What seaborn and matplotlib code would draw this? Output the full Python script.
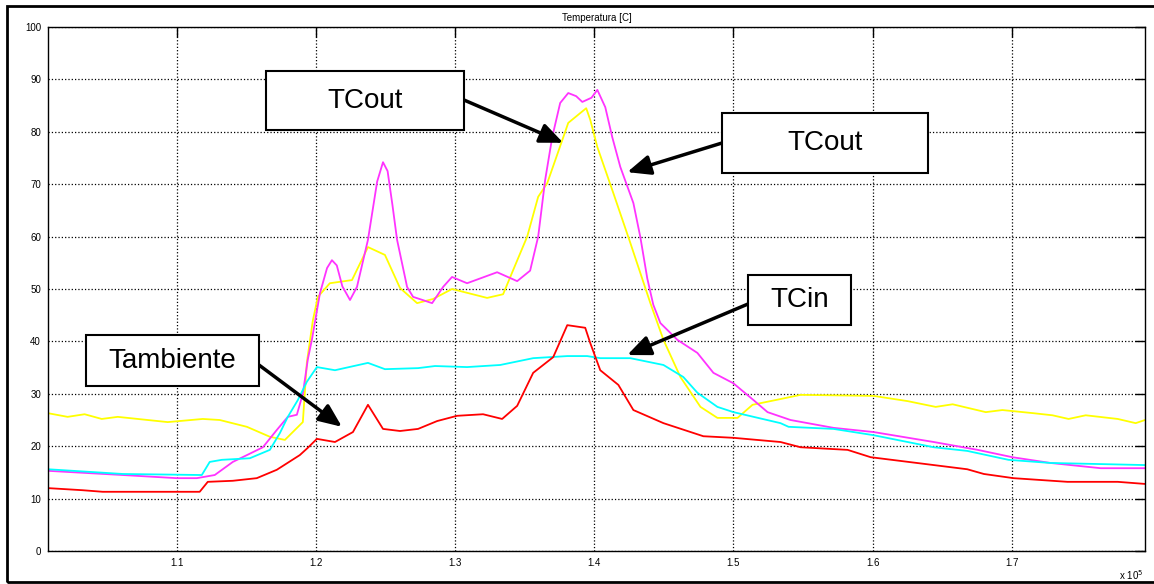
import numpy as np
import pandas as pd
import seaborn as sns
import matplotlib.pyplot as plt
from matplotlib.patches import Rectangle

# x values read in units of 1e5 (axis shows "x 10^5")
x_tcout1 = [1.0075, 1.0216, 1.0338, 1.0461, 1.0576, 1.0935, 1.1187, 1.1309, 1.1504, 1.1669,
            1.1777, 1.1906, 1.1935, 1.1978, 1.2014, 1.2100, 1.2259, 1.2374, 1.2496, 1.2604,
            1.2727, 1.2842, 1.2978, 1.3230, 1.3345, 1.3417, 1.3518, 1.3597, 1.3662, 1.3770,
            1.3813, 1.3942, 1.3971, 1.4022, 1.4137, 1.4259, 1.4403, 1.4497, 1.4619, 1.4763,
            1.4885, 1.5029, 1.5137, 1.5338, 1.5482, 1.6007, 1.6252, 1.6453, 1.6575, 1.6813,
            1.6932, 1.7155, 1.7292, 1.7408, 1.7531, 1.7761, 1.7890, 1.7957]
t_tcout1 = [26.3, 25.6, 26.1, 25.2, 25.6, 24.6, 25.2, 25.0, 23.7, 21.8,
            21.2, 24.6, 36.0, 44.0, 48.5, 51.1, 51.7, 58.0, 56.5, 50.2,
            47.3, 48.1, 50.0, 48.3, 49.0, 53.6, 60.0, 67.6, 70.2, 78.4,
            81.7, 84.5, 82.3, 77.1, 68.3, 58.8, 47.3, 40.3, 33.2, 27.5,
            25.4, 25.4, 27.9, 29.0, 29.8, 29.6, 28.6, 27.5, 28.0, 26.5,
            26.9, 26.3, 25.9, 25.2, 25.9, 25.2, 24.4, 25.0]

x_tcout2 = [1.0075, 1.0612, 1.1000, 1.1144, 1.1273, 1.1403, 1.1504, 1.1619, 1.1719, 1.1798,
            1.1863, 1.1906, 1.1942, 1.1971, 1.2029, 1.2080, 1.2115, 1.2150, 1.2190, 1.2245,
            1.2295, 1.2374, 1.2440, 1.2482, 1.2515, 1.2550, 1.2583, 1.2655, 1.2698, 1.2835,
            1.2914, 1.2978, 1.3086, 1.3302, 1.3446, 1.3539, 1.3597, 1.3647, 1.3698, 1.3755,
            1.3813, 1.3870, 1.3914, 1.3980, 1.4022, 1.4079, 1.4129, 1.4187, 1.4281, 1.4331,
            1.4381, 1.4424, 1.4475, 1.4597, 1.4741, 1.4856, 1.5000, 1.5144, 1.5245, 1.5410,
            1.5719, 1.6007, 1.6439, 1.6755, 1.7004, 1.7278, 1.7639, 1.7957]
t_tcout2 = [15.3, 14.5, 13.9, 13.9, 14.5, 17.0, 18.3, 19.8, 23.1, 25.6,
            26.0, 30.0, 36.6, 40.3, 49.2, 54.0, 55.5, 54.5, 50.5, 47.9,
            50.4, 59.4, 70.5, 74.2, 72.5, 66.0, 59.4, 50.4, 48.5, 47.3,
            50.4, 52.3, 51.1, 53.2, 51.5, 53.5, 60.0, 70.8, 79.0, 85.5,
            87.4, 86.8, 85.7, 86.5, 88.0, 84.7, 79.0, 73.3, 66.4, 59.9,
            52.0, 47.0, 43.5, 40.3, 37.8, 34.0, 32.0, 28.8, 26.5, 25.0,
            23.5, 22.7, 20.8, 19.3, 17.9, 16.8, 15.8, 15.8]

x_tcin = [1.0075, 1.0612, 1.1180, 1.1237, 1.1324, 1.1525, 1.1669, 1.1741, 1.1798, 1.1870,
          1.1935, 1.2007, 1.2137, 1.2374, 1.2496, 1.2734, 1.2856, 1.3086, 1.3324, 1.3561,
          1.3806, 1.3949, 1.4043, 1.4187, 1.4259, 1.4497, 1.4640, 1.4741, 1.4885, 1.5000,
          1.5338, 1.5396, 1.5719, 1.6007, 1.6439, 1.6680, 1.6976, 1.7278, 1.7957]
t_tcin = [15.6, 14.7, 14.5, 17.0, 17.4, 17.7, 19.3, 22.5, 25.6, 28.8,
          32.3, 35.1, 34.5, 35.9, 34.7, 34.9, 35.3, 35.1, 35.5, 36.8,
          37.2, 37.2, 36.8, 36.8, 36.8, 35.5, 33.2, 30.2, 27.5, 26.5,
          24.4, 23.7, 23.3, 22.1, 19.8, 19.1, 17.4, 16.8, 16.4]

x_tamb = [1.0075, 1.0324, 1.0468, 1.1165, 1.1223, 1.1403, 1.1575, 1.1719, 1.1884, 1.1942,
          1.2007, 1.2137, 1.2266, 1.2374, 1.2482, 1.2604, 1.2734, 1.2871, 1.3014, 1.3201,
          1.3338, 1.3446, 1.3561, 1.3705, 1.3806, 1.3935, 1.3971, 1.4043, 1.4173, 1.4281,
          1.4497, 1.4784, 1.5000, 1.5338, 1.5482, 1.5820, 1.5986, 1.6439, 1.6680, 1.6799,
          1.7012, 1.7400, 1.7761, 1.7957]
t_tamb = [12.0, 11.6, 11.3, 11.3, 13.2, 13.4, 13.9, 15.5, 18.3, 19.7,
          21.4, 20.8, 22.7, 27.9, 23.3, 22.9, 23.3, 24.8, 25.8, 26.1,
          25.2, 27.7, 34.0, 37.0, 43.1, 42.6, 39.7, 34.5, 31.7, 26.9,
          24.4, 21.9, 21.6, 20.8, 19.8, 19.3, 17.9, 16.4, 15.6, 14.7,
          13.9, 13.2, 13.2, 12.8]

series = ["TCout1", "TCout2", "TCin", "Tambiente"]
colors = {"TCout1": "#ffff00", "TCout2": "#ff33ff", "TCin": "#00ffff", "Tambiente": "#ff0000"}

frames = []
for name, xs, ys in zip(series, [x_tcout1, x_tcout2, x_tcin, x_tamb],
                        [t_tcout1, t_tcout2, t_tcin, t_tamb]):
    frames.append(pd.DataFrame({"x": np.array(xs) * 1e5, "T": ys, "serie": name}))
df = pd.concat(frames, ignore_index=True)

sns.set_theme(style="white")
plt.rcParams["font.family"] = ["Liberation Sans", "DejaVu Sans"]
plt.rcParams["text.color"] = "black"

W, H = 1154, 584
fig = plt.figure(figsize=(W / 100, H / 100), dpi=100)
ax = fig.add_axes([48 / W, 1 - 551 / H, (1145 - 48) / W, (551 - 27) / H])

sns.lineplot(data=df, x="x", y="T", hue="serie", hue_order=series, palette=colors,
             estimator=None, sort=False, lw=1.3, legend=False, ax=ax)

ax.set_xlim(1.0075e5, 1.7957e5)
ax.set_ylim(0, 100)
xt = np.arange(1.1e5, 1.75e5, 1e4)
ax.set_xticks(xt)
ax.set_xticklabels([f"{v / 1e5:.1f}" for v in xt])
ax.set_yticks(range(0, 101, 10))
ax.tick_params(direction="in", length=7, width=1, top=True, right=True,
               labelsize=7, colors="black", pad=5)
ax.grid(True, color="black", linestyle=":", lw=0.9)
for s in ax.spines.values():
    s.set_color("black")
    s.set_linewidth(1)
ax.set_xlabel("")
ax.set_ylabel("")
ax.set_title("Temperatura [C]", fontsize=7, pad=4, color="black")
fig.text(1131 / W, 1 - 575 / H, "x 10$^5$", ha="center", va="center", fontsize=7)

# outer frame
fig.add_artist(Rectangle((7 / W, 1 - 582 / H), 1.2, (582 - 6) / H, transform=fig.transFigure,
                         fill=False, edgecolor="black", lw=2))


def label_box(x0, y0, x1, y1, text):
    fig.add_artist(Rectangle((x0 / W, 1 - y1 / H), (x1 - x0) / W, (y1 - y0) / H,
                             transform=fig.transFigure, facecolor="white",
                             edgecolor="black", lw=1.5, zorder=5))
    fig.text((x0 + x1) / 2 / W, 1 - (y0 + y1) / 2 / H, text, ha="center", va="center",
             fontsize=20, zorder=6)


def arrow(tip, start):
    ax.annotate("", xy=tip, xycoords="data", xytext=(start[0], H - start[1]),
                textcoords="figure pixels",
                arrowprops=dict(arrowstyle="-|>,head_length=0.7,head_width=0.3",
                                mutation_scale=20, lw=2.5, color="black",
                                shrinkA=0, shrinkB=0))


label_box(266, 71, 464, 130, "TCout")
label_box(722, 113, 928, 173, "TCout")
label_box(748, 275, 851, 325, "TCin")
label_box(86, 335, 259, 386, "Tambiente")

arrow((1.3777e5, 77.9), (464, 100))
arrow((1.4237e5, 72.3), (722, 143))
arrow((1.4237e5, 37.4), (748, 304))
arrow((1.2187e5, 23.7), (259, 365))

fig.savefig("out.png", dpi=100)
